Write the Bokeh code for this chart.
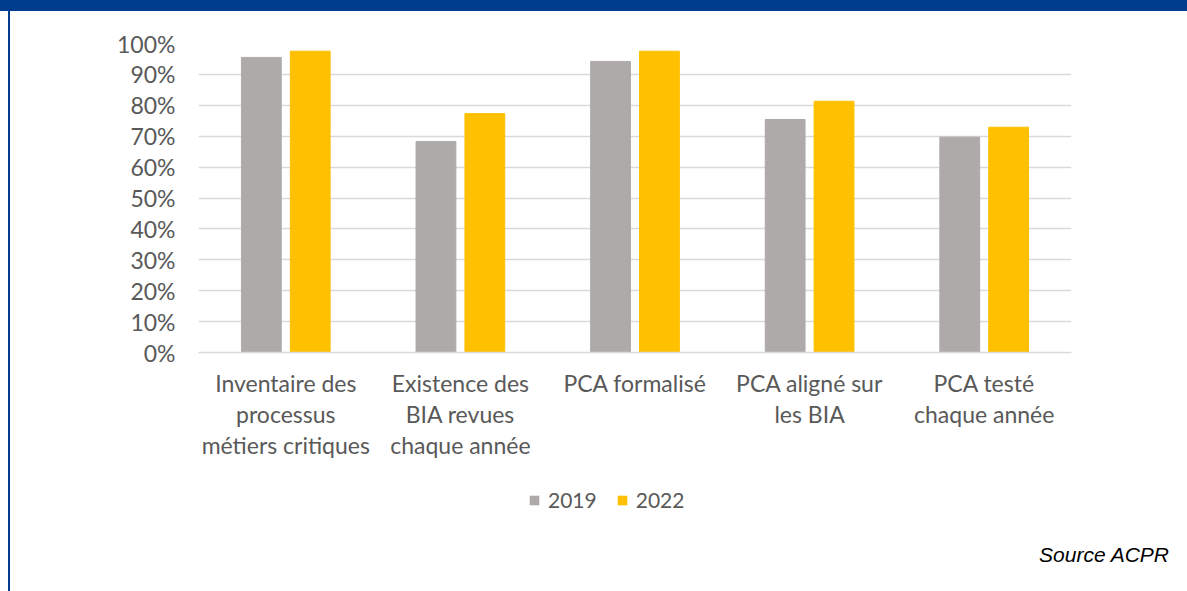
from bokeh.plotting import figure
from bokeh.layouts import column
from bokeh.models import (FactorRange, Range1d, FixedTicker, PrintfTickFormatter,
                          Legend, LegendItem, Div, ColumnDataSource)
from bokeh.transform import dodge
from bokeh.embed import file_html
from bokeh.resources import INLINE

categories = ["Inventaire des\nprocessus\nmétiers critiques",
              "Existence des\nBIA revues\nchaque année",
              "PCA formalisé",
              "PCA aligné sur\nles BIA",
              "PCA testé\nchaque année"]
values_2019 = [95.5, 68.3, 94.2, 75.4, 69.7]
values_2022 = [97.5, 77.3, 97.5, 81.3, 72.9]
series_names = ["2019", "2022"]
y_ticks = [0, 10, 20, 30, 40, 50, 60, 70, 80, 90, 100]
source_text = "Source ACPR"

GREY = "#AEAAAA"
YELLOW = "#FFC000"
GRID = "#D9D9D9"
TEXT = "#595959"
BLUE = "#003D8F"
FONT = "Lato"

src = ColumnDataSource(dict(cat=categories, v2019=values_2019, v2022=values_2022))

W = 1187
H1, H2, H3 = 482, 48, 61

# ---- main chart ----
p = figure(width=W, height=H1, x_range=FactorRange(*categories, range_padding=0),
           y_range=Range1d(0, 100), output_backend="svg", toolbar_location=None,
           min_border_left=198, min_border_right=116, min_border_top=43,
           min_border_bottom=130)
p.outline_line_color = None
p.background_fill_color = "white"
p.border_fill_color = None

r1 = p.vbar(x=dodge("cat", -0.14, range=p.x_range), top="v2019", width=0.228,
            source=src, fill_color=GREY, line_color=GREY)
r2 = p.vbar(x=dodge("cat", 0.14, range=p.x_range), top="v2022", width=0.228,
            source=src, fill_color=YELLOW, line_color=YELLOW)

p.xgrid.grid_line_color = None
p.ygrid.ticker = FixedTicker(ticks=y_ticks)
p.ygrid.grid_line_color = GRID
p.ygrid.grid_line_width = 1.5
p.ygrid.level = "underlay"

p.yaxis.ticker = FixedTicker(ticks=y_ticks)
p.yaxis.formatter = PrintfTickFormatter(format="%d%%")
p.yaxis.axis_line_color = None
p.yaxis.major_tick_line_color = None
p.yaxis.minor_tick_line_color = None
p.yaxis.major_label_text_font = FONT
p.yaxis.major_label_text_font_size = "23px"
p.yaxis.major_label_text_color = TEXT
p.yaxis.major_label_standoff = 17

p.xaxis.axis_line_color = GRID
p.xaxis.axis_line_width = 1.5
p.xaxis.major_tick_line_color = None
p.xaxis.minor_tick_line_color = None
p.xaxis.major_label_text_font = FONT
p.xaxis.major_label_text_font_size = "23px"
p.xaxis.major_label_text_color = TEXT
p.xaxis.major_label_text_line_height = 1.12
p.xaxis.major_label_standoff = 10

# ---- legend strip (frame aligned with the chart above) ----
p2 = figure(width=W, height=H2, x_range=Range1d(0, 1), y_range=Range1d(0, 1),
            output_backend="svg", toolbar_location=None,
            x_axis_location=None, y_axis_location=None, min_border=0)
p2.grid.visible = False
p2.outline_line_color = None
p2.background_fill_alpha = 0
p2.border_fill_color = None

# legend proxies (zero-height, invisible in the plot area)
proxy = ColumnDataSource(dict(x=[0], top=[0]))
g1 = p2.vbar(x="x", top="top", width=0.001, source=proxy,
             fill_color=GREY, line_color=None)
g2 = p2.vbar(x="x", top="top", width=0.001, source=proxy,
             fill_color=YELLOW, line_color=None)

legend = Legend(items=[LegendItem(label=series_names[0], renderers=[g1]),
                       LegendItem(label=series_names[1], renderers=[g2])],
                orientation="horizontal", location=(330, 18))
legend.glyph_width = 12
legend.glyph_height = 12
legend.label_text_font = FONT
legend.label_text_font_size = "21px"
legend.label_text_color = TEXT
legend.label_standoff = 8
legend.spacing = 19
legend.padding = 0
legend.margin = 0
legend.border_line_alpha = 0
legend.background_fill_alpha = 0
p2.add_layout(legend, "center")

# ---- source note ----
note = Div(width=W, height=H3,
           text=('<div style="display:block;width:1164px;text-align:right;padding-top:8px;'
                 'font-family:\'Liberation Sans\';font-style:italic;font-size:21px;'
                 f'line-height:24px;color:black;">{source_text}</div>'))

layout = column(p, p2, note, spacing=0, styles={
    "background": (f"linear-gradient({BLUE},{BLUE}) 0 0 / 100% 11px no-repeat, "
                   f"linear-gradient({BLUE},{BLUE}) 8px 0 / 2px 100% no-repeat, white")})

open("out.html", "w").write(file_html(layout, INLINE))
